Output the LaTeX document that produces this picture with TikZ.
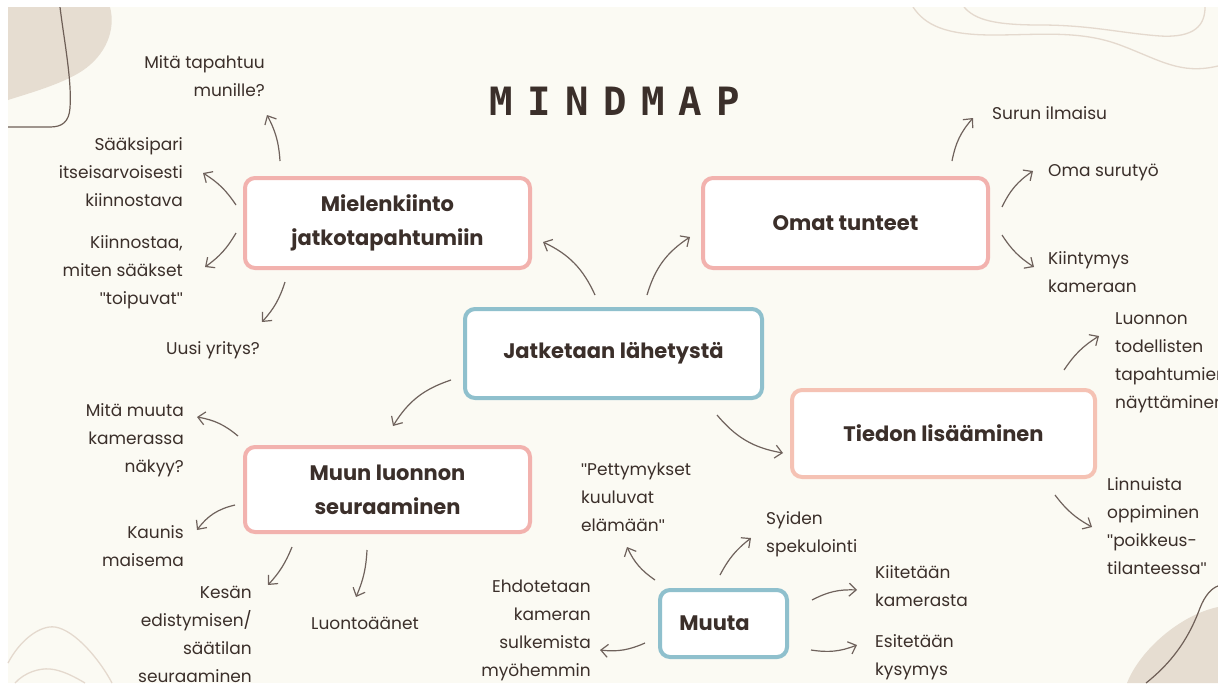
\documentclass[tikz,border=0pt]{standalone}
\usepackage{fontspec}
\setmainfont{Poppins}
\newfontfamily\titlefont{DejaVu Sans Mono}
\newfontfamily\qfont{Liberation Sans}
\newcommand\qq{{\qfont"}}
\usetikzlibrary{arrows.meta}
\definecolor{bgc}{HTML}{FBFAF3}
\definecolor{blobc}{HTML}{E6DDD1}
\definecolor{darkline}{HTML}{6E5F57}
\definecolor{lightline}{HTML}{E4D9CE}
\definecolor{txt}{HTML}{3B2F2A}
\definecolor{arrc}{HTML}{6F625C}
\definecolor{pinkb}{HTML}{F2B2AE}
\definecolor{peachb}{HTML}{F5C2B4}
\definecolor{blueb}{HTML}{8FC0CD}
\newcommand\ttlet[1]{\makebox[37.8pt][c]{#1}}
\tikzset{
  box/.style={draw=pinkb, line width=4pt, rounded corners=10pt, fill=white,
    inner sep=0pt, align=center, text=txt,
    font=\fontsize{21}{34}\selectfont\bfseries},
  lbl/.style={inner sep=0pt, text=txt, font=\fontsize{17}{28}\selectfont},
  lr/.style={lbl, align=right, anchor=east},
  ll/.style={lbl, align=left, anchor=west},
  arr/.style={draw=arrc, line width=1.2pt, -{Straight Barb[length=7pt,width=13pt]}},
}
\begin{document}
\begin{tikzpicture}[x=1pt,y=-1pt]
\useasboundingbox (0,0) rectangle (1230,683);
\fill[white] (0,0) rectangle (1230,683);
\fill[bgc] (8,7) rectangle (1218,683);
% decorations
\fill[blobc] (8,7) -- (110,7) .. controls (116,30) and (106,55) .. (82,71) .. controls (62,84) and (30,93) .. (8,100) -- cycle;
\draw[darkline, line width=1.2pt] (60,7) .. controls (64,40) and (72,80) .. (70,108) .. controls (69,122) and (62,127) .. (50,127) -- (8,127);
\fill[blobc] (1127,683) .. controls (1140,650) and (1180,615) .. (1218,607) -- (1218,683) -- cycle;
\draw[darkline, line width=1.2pt] (1146,683) .. controls (1175,660) and (1190,635) .. (1200,608) .. controls (1205,595) and (1212,588) .. (1218,586);
\draw[lightline, line width=1.3pt] (913,7) .. controls (925,25) and (945,35) .. (993,35) .. controls (1040,35) and (1080,30) .. (1120,45) .. controls (1160,60) and (1180,75) .. (1218,66);
\draw[lightline, line width=1.3pt] (964,7) .. controls (975,20) and (995,25) .. (1040,25) .. controls (1090,25) and (1120,33) .. (1160,36) .. controls (1195,38) and (1205,25) .. (1205,7);
\draw[lightline, line width=1.3pt] (8,663) .. controls (20,640) and (40,625) .. (55,627) .. controls (75,630) and (100,660) .. (112,683);
\draw[lightline, line width=1.3pt] (15,683) .. controls (25,672) and (40,668) .. (50,669) .. controls (62,670) and (75,677) .. (85,683);
% title
\node[text=txt, inner sep=0pt, font=\titlefont\bfseries\fontsize{39}{40}\selectfont] (title) at (615,101)
  {\ttlet{M}\ttlet{I}\ttlet{N}\ttlet{D}\ttlet{M}\ttlet{A}\ttlet{P}};
% boxes
\node[box, draw=blueb, minimum width=297pt, minimum height=89pt] (cen) at (613.5,353.5) {Jatketaan lähetystä};
\node[box, minimum width=285pt, minimum height=90pt] (mie) at (387.5,223) {Mielenkiinto\\jatkotapahtumiin};
\node[box, minimum width=285pt, minimum height=90pt] (oma) at (845.5,223) {Omat tunteet};
\node[box, draw=peachb, minimum width=303pt, minimum height=87pt] (tie) at (943.5,433.5) {Tiedon lisääminen};
\node[box, minimum width=285pt, minimum height=85pt] (muu) at (387.5,489.5) {Muun luonnon\\seuraaminen};
\node[box, draw=blueb, minimum width=127pt, minimum height=67pt] (mut) at (723.5,623.5) {Muuta\hspace{18pt}};
% labels
\node[lr] (tap) at (265,76) {Mitä tapahtuu\\munille?};
\node[lr] (saa) at (183,172) {Sääksipari\\itseisarvoisesti\\kiinnostava};
\node[lr] (kii) at (183,272) {Kiinnostaa,\\miten sääkset\\\qq toipuvat\qq};
\node[lbl] (uus) at (213,350) {Uusi yritys?};
\node[lr] (mm) at (184,440) {Mitä muuta\\kamerassa\\näkyy?};
\node[lr] (kau) at (184,546) {Kaunis\\maisema};
\node[lr] (kes) at (252,634) {Kesän\\edistymisen/\\säätilan\\seuraaminen};
\node[lbl] (luo) at (365,623) {Luontoäänet};
\node[ll] (pet) at (581,497) {\qq Pettymykset\\kuuluvat\\elämään\qq};
\node[ll] (syi) at (766,534) {Syiden\\spekulointi};
\node[ll] (kiit) at (875,586) {Kiitetään\\kamerasta};
\node[ll] (esi) at (875,657) {Esitetään\\kysymys};
\node[lr] (ehd) at (591,630) {Ehdotetaan\\kameran\\sulkemista\\myöhemmin};
\node[ll] (sur) at (992,113) {Surun ilmaisu};
\node[ll] (osu) at (1048,172) {Oma surutyö};
\node[ll] (kiin) at (1048,272) {Kiintymys\\kameraan};
\node[ll] (luon) at (1115,363) {Luonnon\\todellisten\\tapahtumien\\näyttäminen};
\node[ll] (lin) at (1107,526) {Linnuista\\oppiminen\\\qq poikkeus-\\tilanteessa\qq};
% connectors
\draw[arr] ([shift={(-18.5,-12)}]cen.north) to[bend right=20] ([shift={(11,19)}]mie.east);
\draw[arr] ([shift={(33.5,-12)}]cen.north) to[bend left=20] ([shift={(-11,14)}]oma.west);
\draw[arr] ([shift={(-12,26.5)}]cen.west) to[bend right=20] ([shift={(5.5,-19)}]muu.north);
\draw[arr] ([shift={(103.5,15)}]cen.south) to[bend right=20] ([shift={(-7,19.5)}]tie.west);
\draw[arr] ([shift={(106.5,-15)}]oma.north) to[bend left=15] ([shift={(-19,5)}]sur.west);
\draw[arr] ([shift={(12,-16)}]oma.east) to[bend left=15] ([shift={(-15,-1)}]osu.west);
\draw[arr] ([shift={(12,12)}]oma.east) to[bend right=12] ([shift={(-14,-5)}]kiin.west);
\draw[arr] ([shift={(120.5,-18)}]tie.north) to[bend left=12] ([shift={(-16,-27)}]luon.west);
\draw[arr] ([shift={(111.5,16)}]tie.south) to[bend right=12] ([shift={(-15,1)}]lin.west);
\draw[arr] ([shift={(-5,-9)}]muu.north west) to[bend right=15] ([shift={(13,-23)}]mm.east);
\draw[arr] ([shift={(-8,15.5)}]muu.west) to[bend right=20] ([shift={(13,-16)}]kau.east);
\draw[arr] ([shift={(-95.5,13)}]muu.south) to[bend left=10] ([shift={(16,-49)}]kes.east);
\draw[arr] ([shift={(-20.5,16)}]muu.south) to[bend left=10] ([shift={(-9,-26)}]luo.center);
\draw[arr] ([shift={(-3,-8)}]mut.north west) to[bend left=15] ([shift={(46,50)}]pet.west);
\draw[arr] ([shift={(-3.5,-13)}]mut.north) to[bend left=12] ([shift={(-15,4)}]syi.west);
\draw[arr] ([shift={(23,-23.5)}]mut.east) to[bend left=15] ([shift={(-18,4)}]kiit.west);
\draw[arr] ([shift={(22,26.5)}]mut.east) to[bend right=15] ([shift={(-18,-12)}]esi.west);
\draw[arr] ([shift={(-13,19.5)}]mut.west) to[bend left=15] ([shift={(9,20)}]ehd.east);
\draw[arr] ([shift={(-107.5,-15)}]mie.north) to[bend right=12] ([shift={(2,39)}]tap.east);
\draw[arr] ([shift={(-7,-18)}]mie.west) to[bend right=12] ([shift={(20,1)}]saa.east);
\draw[arr] ([shift={(-7,10)}]mie.west) to[bend left=12] ([shift={(22,-5)}]kii.east);
\draw[arr] ([shift={(-102.5,12)}]mie.south) to[bend left=12] ([shift={(49,-28)}]uus.center);
% slide edge
\fill[white] (1218,0) rectangle (1230,683);
\fill[white] (0,0) rectangle (1230,7);
\end{tikzpicture}
\end{document}
